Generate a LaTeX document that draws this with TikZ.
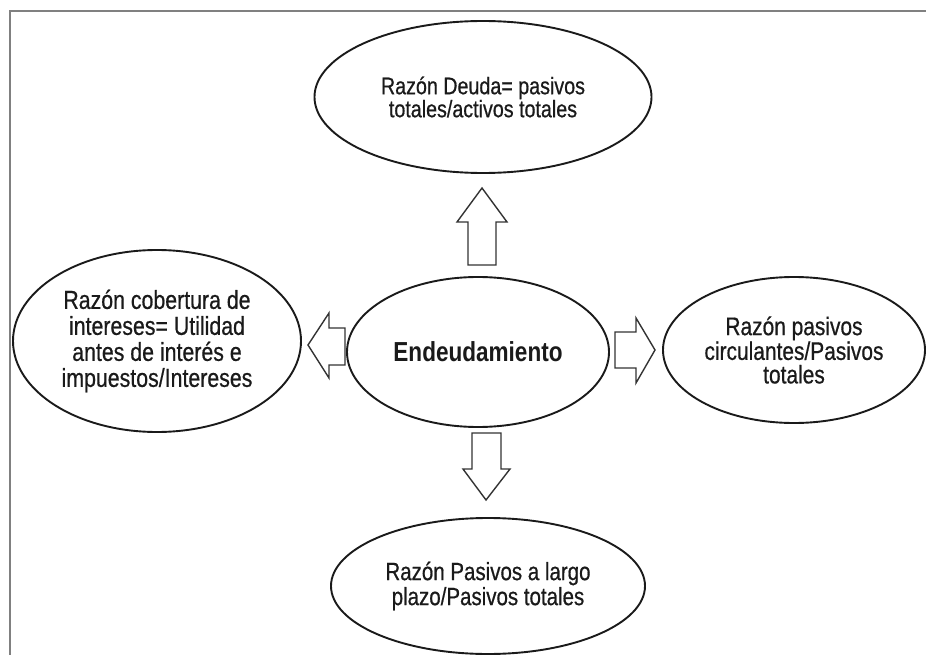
\documentclass[tikz,border=0pt]{standalone}
\usepackage{fontspec}
\setmainfont[FakeStretch=0.82,FakeBold=0.6,BoldFeatures={FakeBold=0}]{Liberation Sans}
\usetikzlibrary{shapes.geometric}
\definecolor{framecol}{HTML}{808080}
\definecolor{inkcol}{HTML}{1A1A1A}
\definecolor{arrowcol}{HTML}{333333}
\tikzset{
  oval/.style={ellipse, draw=inkcol, line width=1.9pt, inner sep=0pt, align=center, text=inkcol},
  blockarrow/.style={draw=arrowcol, line width=1.4pt, line join=miter, fill=white}
}
\begin{document}
\begin{tikzpicture}[x=1pt,y=-1pt]
\useasboundingbox (0,0) rectangle (926,655);
\fill[white] (0,0) rectangle (926,655);
\draw[framecol, line width=1.6pt] (10,655) -- (10,11) -- (926,11);

\node[oval, minimum width=337pt, minimum height=152pt, font=\fontsize{24}{23}\selectfont] (top) at (483,97)
  {Razón Deuda= pasivos\\totales/activos totales};
\node[oval, minimum width=262pt, minimum height=150pt, font=\bfseries\fontsize{27.5}{28}\selectfont] (center) at (478,352)
  {Endeudamiento};
\node[oval, minimum width=288pt, minimum height=182pt, font=\fontsize{26}{26}\selectfont] (left) at (157,341)
  {Razón cobertura de\\intereses= Utilidad\\antes de interés e\\impuestos/Intereses};
\node[oval, minimum width=262pt, minimum height=146pt, font=\fontsize{25.5}{23.5}\selectfont] (right) at (794,350)
  {Razón pasivos\\circulantes/Pasivos\\totales};
\node[oval, minimum width=314pt, minimum height=136pt, font=\fontsize{25}{25}\selectfont] (bottom) at (488,586)
  {Razón Pasivos a largo\\plazo/Pasivos totales};

% block arrows
\draw[blockarrow] (482,188) -- (507,222) -- (496,222) -- (496,265) -- (468,265) -- (468,222) -- (457,222) -- cycle;
\draw[blockarrow] (308,345) -- (329,313) -- (329,328) -- (345,328) -- (345,365) -- (329,365) -- (329,378) -- cycle;
\draw[blockarrow] (655,350) -- (636,318) -- (636,332) -- (615,332) -- (615,368) -- (636,368) -- (636,383) -- cycle;
\draw[blockarrow] (486,500) -- (510,469) -- (501,469) -- (501,433) -- (472,433) -- (472,469) -- (463,469) -- cycle;
\end{tikzpicture}
\end{document}
